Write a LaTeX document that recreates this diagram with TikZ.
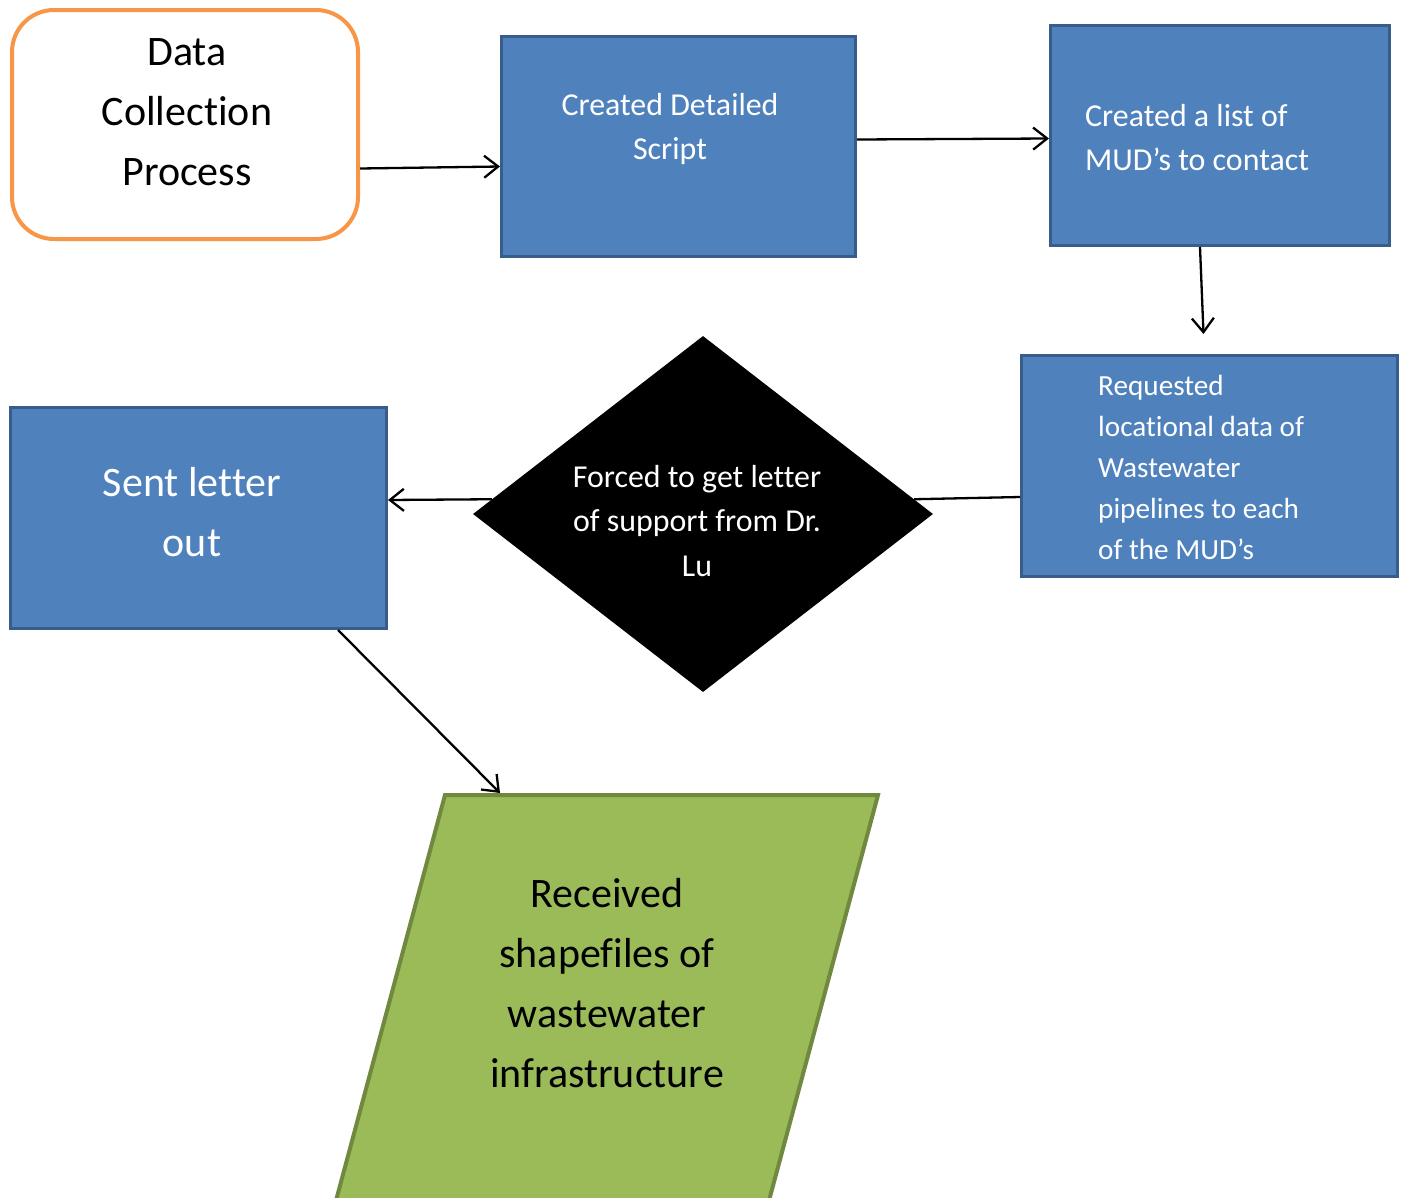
\documentclass[tikz,border=0pt]{standalone}
\usepackage{fontspec}
\setmainfont{Carlito}[Ligatures=NoCommon]
\usetikzlibrary{shapes.geometric,arrows.meta}

\definecolor{boxblue}{HTML}{4F81BD}
\definecolor{boxblueline}{HTML}{385D8A}
\definecolor{startorange}{HTML}{F79646}
\definecolor{shapegreen}{HTML}{9BBB59}
\definecolor{shapegreenline}{HTML}{71893F}

\tikzset{
  bluebox/.style={draw=boxblueline, fill=boxblue, line width=3pt, inner sep=0pt},
  flow/.style={line width=2.3pt, -{Straight Barb[length=14pt,width=22pt]}},
  link/.style={line width=2.3pt},
  bigtext/.style={font=\fontsize{42}{60}\selectfont, align=center, inner sep=0pt},
  midtext/.style={font=\fontsize{31.9}{44.5}\selectfont, text=white, inner sep=0pt},
  smalltext/.style={font=\fontsize{29.2}{41.2}\selectfont, text=white, inner sep=0pt},
}

\begin{document}
\begin{tikzpicture}[x=1pt, y=-1pt]
    \clip (0,0) rectangle (1408,1197);
    \fill[white] (0,0) rectangle (1408,1197);

    % Shapes
    \node[draw=startorange, fill=white, line width=4pt, rounded corners=42pt,
          minimum width=346pt, minimum height=229pt] (collect) at (185,124.5) {};
    \node[bluebox, minimum width=354pt, minimum height=220pt] (script) at (678.5,146.5) {};
    \node[bluebox, minimum width=339pt, minimum height=220pt] (list) at (1220,135.5) {};
    \node[bluebox, minimum width=376pt, minimum height=221pt] (request) at (1209.5,466) {};
    \node[diamond, fill=black, inner sep=0pt, minimum width=460pt, minimum height=356pt] (letter) at (703,514) {};
    \node[bluebox, minimum width=376pt, minimum height=221pt] (sent) at (198.5,518) {};
    \draw[fill=shapegreen, draw=shapegreenline, line width=4pt]
        (445,795) -- (878,795) -- (749,1275) -- (316,1275) -- cycle;
    \coordinate (shapetop) at (500,793);

    % Texts
    \node[bigtext] (collecttext) at (187,112) {Data\\Collection\\Process};
    \node[midtext, align=center] (scripttext) at (670,129) {Created Detailed\\Script};
    \node[midtext, align=left, anchor=west] (listtext) at (1085,137.5) {Created a list of\\MUD’s to contact};
    \node[smalltext, align=left, anchor=west] (requesttext) at (1098,467.5)
        {Requested\\locational data of\\Wastewater\\pipelines to each\\of the MUD’s};
    \node[midtext, align=center] (lettertext) at (697,521) {Forced to get letter\\of support from Dr.\\Lu};
    \node[bigtext, text=white] (senttext) at (192,512) {Sent letter\\out};
    \node[bigtext] (shapestext) at (607,983) {Received\\shapefiles of\\wastewater\\infrastructure};

    % Connectors
    \draw[flow] ([yshift=-44pt]collect.east) -- ([yshift=-20pt]script.west);
    \draw[flow] ([yshift=7pt]script.east) -- ([yshift=-3pt]list.west);
    \draw[flow] ([xshift=-20pt]list.south) -- ([xshift=-6pt,yshift=20pt]request.north);
    \draw[link] ([yshift=-31pt]request.west) -- (letter.4);
    \draw[flow] (letter.176) -- ([yshift=18pt]sent.east);
    \draw[flow] ([xshift=-50pt]sent.south east) -- (shapetop);

\end{tikzpicture}
\end{document}
